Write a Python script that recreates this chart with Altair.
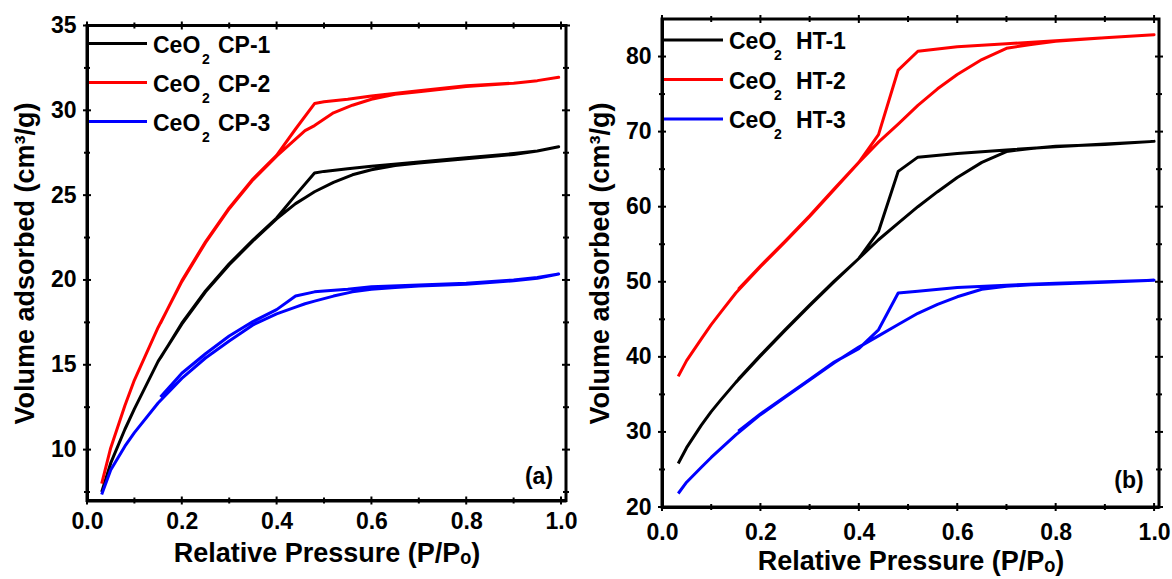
import altair as alt
import pandas as pd

FONT = "Liberation Sans"

# ---------------- Panel (a): CeO2 CP samples ----------------
cp_names = ["CeO2 CP-1", "CeO2 CP-2", "CeO2 CP-3"]
cp_codes = ["CP-1", "CP-2", "CP-3"]
cp_ads_x = [0.031, 0.05, 0.08, 0.1, 0.15, 0.2, 0.25, 0.3, 0.35, 0.4, 0.44, 0.46,
            0.48, 0.52, 0.56, 0.6, 0.65, 0.7, 0.8, 0.9, 0.95, 0.995]
cp1_ads = [7.5, 9.2, 11.2, 12.4, 15.2, 17.4, 19.3, 20.9, 22.3, 23.6, 24.5, 24.85,
           25.2, 25.75, 26.2, 26.5, 26.75, 26.9, 27.15, 27.4, 27.6, 27.85]
cp2_ads = [8.0, 10.1, 12.6, 14.1, 17.2, 19.9, 22.2, 24.2, 25.9, 27.3, 28.3, 28.8,
           29.1, 29.85, 30.3, 30.65, 30.95, 31.1, 31.4, 31.6, 31.75, 31.95]
cp3_ads = [7.35, 8.8, 10.2, 11.0, 12.75, 14.2, 15.4, 16.4, 17.35, 18.0, 18.4, 18.6,
           18.75, 19.05, 19.3, 19.45, 19.55, 19.65, 19.75, 19.95, 20.1, 20.35]
cp_des_x = [0.995, 0.95, 0.9, 0.8, 0.7, 0.6, 0.55, 0.5, 0.48, 0.44, 0.4, 0.35,
            0.3, 0.25, 0.2, 0.155]
cp1_des = [27.85, 27.6, 27.45, 27.2, 26.95, 26.7, 26.55, 26.4, 26.3, 25.0, 23.65,
           22.35, 20.95, 19.35, 17.45, 15.4]
cp2_des = [31.95, 31.75, 31.6, 31.45, 31.15, 30.85, 30.65, 30.5, 30.4, 28.9, 27.35,
           25.95, 24.25, 22.25, 19.95, 17.45]
cp3_des = [20.35, 20.15, 20.0, 19.8, 19.7, 19.6, 19.45, 19.35, 19.3, 19.05, 18.25,
           17.55, 16.7, 15.65, 14.5, 13.1]

# ---------------- Panel (b): CeO2 HT samples ----------------
ht_names = ["CeO2 HT-1", "CeO2 HT-2", "CeO2 HT-3"]
ht_codes = ["HT-1", "HT-2", "HT-3"]
ht_ads_x = [0.033, 0.05, 0.08, 0.1, 0.12, 0.15, 0.2, 0.25, 0.3, 0.35, 0.4, 0.44,
            0.48, 0.52, 0.56, 0.6, 0.65, 0.7, 0.75, 0.8, 0.9, 1.0]
ht1_ads = [25.8, 27.9, 30.9, 32.7, 34.3, 36.6, 40.1, 43.5, 46.8, 50.0, 53.1, 55.6,
           57.8, 60.0, 62.0, 63.9, 65.9, 67.35, 67.75, 68.05, 68.3, 68.7]
ht2_ads = [37.4, 39.5, 42.4, 44.3, 46.0, 48.5, 52.0, 55.3, 58.7, 62.3, 65.9, 68.6,
           71.0, 73.5, 75.7, 77.6, 79.6, 81.1, 81.6, 82.05, 82.5, 82.9]
ht3_ads = [21.8, 23.3, 25.3, 26.6, 27.8, 29.6, 32.3, 34.6, 36.9, 39.2, 41.3, 42.8,
           44.3, 45.8, 47.0, 48.0, 49.0, 49.4, 49.6, 49.7, 49.95, 50.2]
ht_des_x = [1.0, 0.9, 0.8, 0.7, 0.6, 0.52, 0.48, 0.44, 0.4, 0.35, 0.3, 0.25, 0.2, 0.155]
ht1_des = [68.7, 68.35, 68.0, 67.55, 67.1, 66.6, 64.7, 56.7, 53.1, 50.1, 46.9, 43.6, 40.2, 37.0]
ht2_des = [82.9, 82.5, 82.1, 81.7, 81.3, 80.7, 78.2, 69.6, 65.9, 62.4, 58.8, 55.4, 52.1, 49.0]
ht3_des = [50.2, 50.0, 49.8, 49.55, 49.25, 48.75, 48.5, 43.6, 41.1, 39.3, 37.0, 34.7, 32.4, 30.1]

# ---------------- axis ticks ----------------
x_major = [0.0, 0.2, 0.4, 0.6, 0.8, 1.0]
x_minor = [0.1, 0.3, 0.5, 0.7, 0.9]
cp_y_major = [10, 15, 20, 25, 30, 35]
cp_y_minor = [7.5, 12.5, 17.5, 22.5, 27.5, 32.5]
ht_y_major = [20, 30, 40, 50, 60, 70, 80]
ht_y_minor = [25, 35, 45, 55, 65, 75]

colors = ["#000000", "#ff0000", "#0000ff"]


def build_frame(names, ads_x, ads_list, des_x, des_list):
    rows = []
    for name, ads, des in zip(names, ads_list, des_list):
        k = 0
        for xv, yv in zip(ads_x, ads):
            rows.append({"series": name, "k": k, "x": xv, "y": yv})
            k += 1
        for xv, yv in zip(des_x, des):
            rows.append({"series": name, "k": k, "x": xv, "y": yv})
            k += 1
    return pd.DataFrame(rows)


def panel(names, codes, df, xdom, ydom, ymaj, ymin, w, h, leg, tag, tag_pos,
          xlab_pad, xtitle_pad):
    xs = alt.Scale(domain=xdom, nice=False, zero=False)
    ys = alt.Scale(domain=ydom, nice=False, zero=False)
    common = dict(labelFont=FONT, labelFontSize=23, labelFontWeight="bold",
                  labelColor="black", titleFont=FONT, titleFontSize=27,
                  titleFontWeight="bold", titleColor="black", domainColor="black",
                  domainWidth=3, ticks=False, tickSize=0, grid=False,
                  labelFlush=False, labelOverlap=False)
    x_axis = alt.Axis(values=x_major, format=".1f", title="Relative Pressure (P/Pₒ)",
                      labelPadding=xlab_pad, titlePadding=xtitle_pad, **common)
    y_axis = alt.Axis(values=ymaj, format="d", title="Volume adsorbed (cm³/g)",
                      labelPadding=11, titlePadding=11, **common)
    lines = alt.Chart(df).mark_line(strokeWidth=3, strokeJoin="round").encode(
        x=alt.X("x:Q", scale=xs, axis=x_axis),
        y=alt.Y("y:Q", scale=ys, axis=y_axis),
        color=alt.Color("series:N", scale=alt.Scale(domain=names, range=colors),
                        legend=None),
        order="k:Q",
    )
    layers = [lines]
    # tick marks on all four sides
    for vals, half in ((x_major, 4), (x_minor, 3)):
        tdf = pd.DataFrame({"t": vals})
        for edge in (0, h):
            layers.append(alt.Chart(tdf).mark_rule(color="black", strokeWidth=2).encode(
                x=alt.X("t:Q", scale=xs, axis=x_axis),
                y=alt.value(edge - half), y2=alt.value(edge + half)))
    for vals, half in ((ymaj, 4), (ymin, 3)):
        tdf = pd.DataFrame({"t": vals})
        for edge in (0, w):
            layers.append(alt.Chart(tdf).mark_rule(color="black", strokeWidth=2).encode(
                y=alt.Y("t:Q", scale=ys, axis=y_axis),
                x=alt.value(edge - half), x2=alt.value(edge + half)))
    # legend drawn inside the plot area
    one = pd.DataFrame({"a": [0]})
    lx0, lx1, ly0, dy, tx, sx, cx = leg
    for i, (code, col) in enumerate(zip(codes, colors)):
        yy = ly0 + dy * i
        layers.append(alt.Chart(one).mark_rule(color=col, strokeWidth=3).encode(
            x=alt.value(lx0), x2=alt.value(lx1), y=alt.value(yy)))
        layers.append(alt.Chart(one).mark_text(
            text="CeO", font=FONT, fontSize=23, fontWeight="bold", align="left",
            baseline="alphabetic", color="black").encode(
            x=alt.value(tx), y=alt.value(yy + 9)))
        layers.append(alt.Chart(one).mark_text(
            text="2", font=FONT, fontSize=14, fontWeight="bold", align="left",
            baseline="alphabetic", color="black").encode(
            x=alt.value(sx), y=alt.value(yy + 20)))
        layers.append(alt.Chart(one).mark_text(
            text=code, font=FONT, fontSize=23, fontWeight="bold", align="left",
            baseline="alphabetic", color="black").encode(
            x=alt.value(cx), y=alt.value(yy + 9)))
    layers.append(alt.Chart(one).mark_text(
        text=tag, font=FONT, fontSize=23, fontWeight="bold", align="center",
        baseline="middle", color="black").encode(
        x=alt.value(tag_pos[0]), y=alt.value(tag_pos[1])))
    return alt.layer(*layers).properties(width=w, height=h)


df_cp = build_frame(cp_names, cp_ads_x, [cp1_ads, cp2_ads, cp3_ads],
                    cp_des_x, [cp1_des, cp2_des, cp3_des])
df_ht = build_frame(ht_names, ht_ads_x, [ht1_ads, ht2_ads, ht3_ads],
                    ht_des_x, [ht1_des, ht2_des, ht3_des])

left = panel(cp_names, cp_codes, df_cp, [0, 1.0105], [7, 35], cp_y_major, cp_y_minor,
             479, 475, (2, 60, 18, 39, 66, 115, 131), "(a)", (452, 451), 10, 7)
right = panel(ht_names, ht_codes, df_ht, [0, 1.01], [20, 85], ht_y_major, ht_y_minor,
              497, 488, (2, 61, 21, 39.5, 67, 112, 134), "(b)", (467, 462), 14, 4)

chart = alt.hconcat(left, right, spacing=96, center=True, bounds="flush").properties(
    padding={"left": 9, "top": 12, "right": 0, "bottom": 0},
    background="white",
).configure_view(stroke="black", strokeWidth=3)

chart.save("out.html", embed_options={"renderer": "svg", "actions": False})
